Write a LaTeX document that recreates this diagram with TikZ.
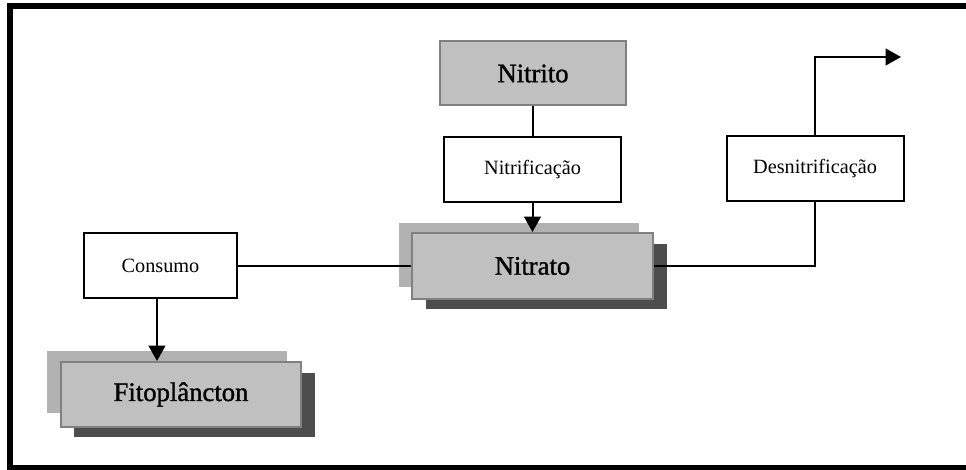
\documentclass[tikz,border=0pt]{standalone}
\usepackage{fontspec}
\setmainfont{Liberation Serif}
\newfontfamily\titlefont[FakeBold=1.3]{Liberation Serif}
\usetikzlibrary{arrows.meta,calc}
\definecolor{boxfill}{RGB}{192,192,192}
\definecolor{boxedge}{RGB}{128,128,128}
\definecolor{lightshadow}{RGB}{178,178,178}
\definecolor{darkshadow}{RGB}{77,77,77}
\tikzset{
  graybox/.style={draw=boxedge, fill=boxfill, line width=1.5pt, inner sep=0pt,
    font=\titlefont\fontsize{20}{24}\selectfont, align=center},
  whitebox/.style={draw=black, fill=white, line width=1.5pt, inner sep=0pt,
    font=\fontsize{15.2}{18}\selectfont, align=center},
  conn/.style={draw=black, line width=1.5pt},
  arr/.style={conn, -{Triangle[width=12.5pt,length=11.5pt]}},
  lshadow/.style={fill=lightshadow},
  dshadow/.style={fill=darkshadow}
}
\begin{document}
\begin{tikzpicture}[x=0.75pt,y=-0.75pt]
\useasboundingbox (0,0) rectangle (966,470);
\fill[white] (0,0) rectangle (966,470);
% frame (right side lies outside the picture)
\draw[black, line width=4.5pt] (9.5,6.5) rectangle (980,467.5);

% shadows
\fill[lshadow] (399,223) rectangle (639,287);
\fill[dshadow] (426,244) rectangle (667,309);
\fill[lshadow] (47,351) rectangle (287,413);
\fill[dshadow] (74,373) rectangle (315,437);

% boxes
\node[graybox, minimum width=139.5pt, minimum height=48pt] (nitrito) at (533,73.5) {Nitrito};
\node[whitebox, minimum width=132.75pt, minimum height=48.75pt] (nitrif) at (532.5,169.5) {Nitrificação};
\node[graybox, minimum width=180.75pt, minimum height=49.5pt] (nitrato) at (532.5,266) {Nitrato};
\node[whitebox, minimum width=114.75pt, minimum height=48.75pt] (consumo) at (160.5,265.5) {Consumo};
\node[graybox, minimum width=180pt, minimum height=48.75pt] (fito) at (181,394.5) {Fitoplâncton};
\node[whitebox, minimum width=132.75pt, minimum height=48.75pt] (desn) at (815,168.5) {Desnitrificação};

\coordinate (cx) at (157,0);
\coordinate (outend) at (901,57);

% connectors
\draw[conn] (nitrito.south -| nitrif.north) -- (nitrif.north);
\draw[arr] (nitrif.south) -- (nitrato.north);
\draw[conn] (consumo.east) -- (consumo.east -| nitrato.west);
\draw[arr] (consumo.south -| cx) -- (fito.north -| cx);
\draw[conn] (nitrato.east) -- (nitrato.east -| desn.south) -- (desn.south);
\draw[arr] (desn.north) |- (outend);
\end{tikzpicture}
\end{document}
